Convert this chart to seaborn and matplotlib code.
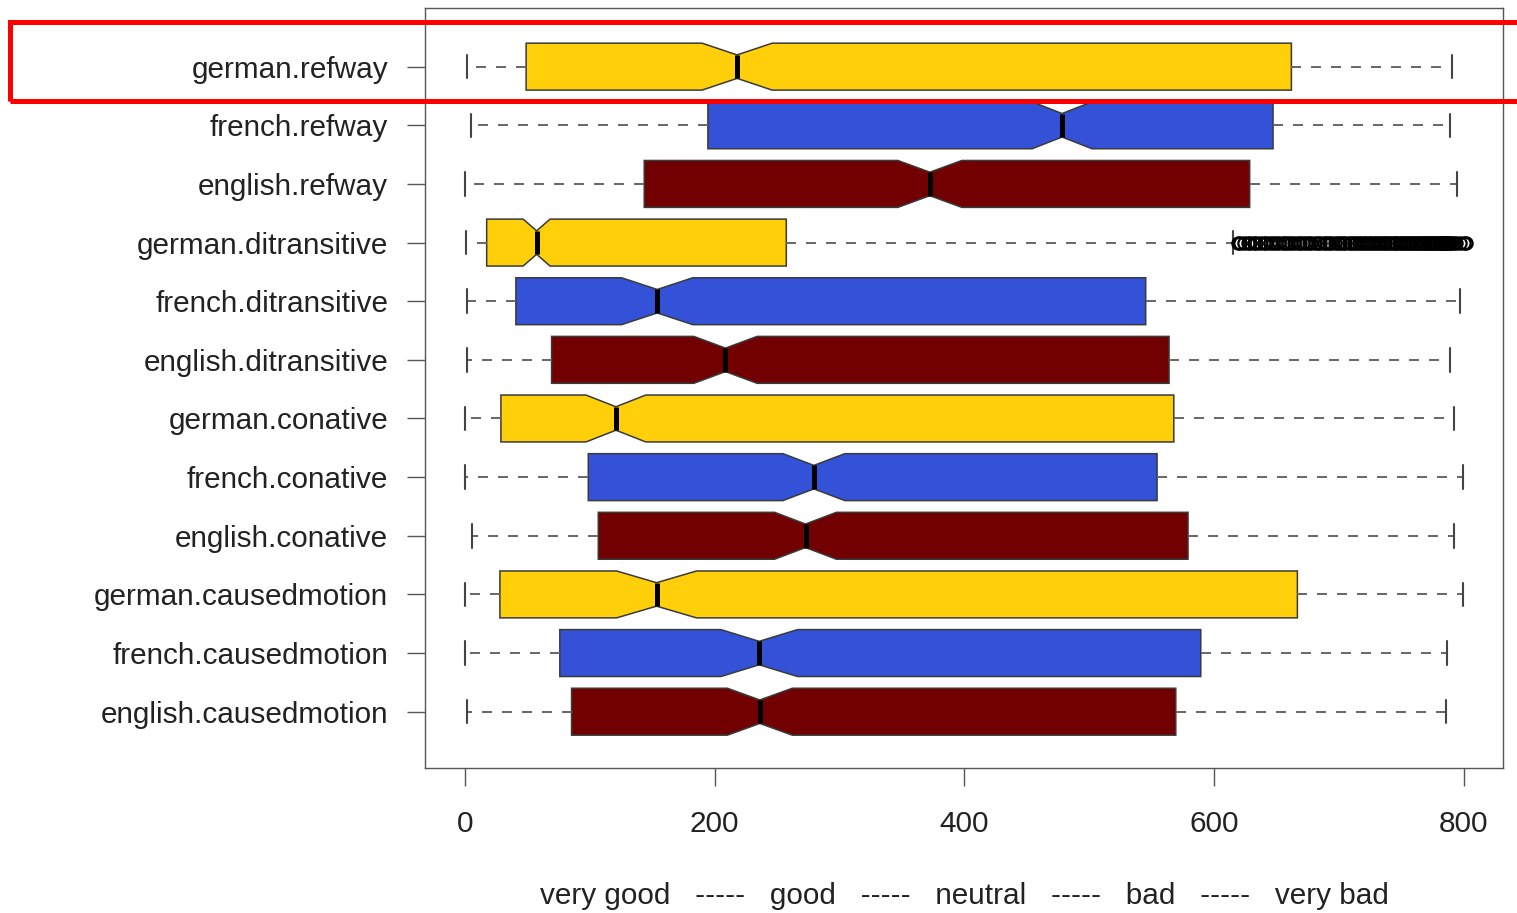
import numpy as np
import pandas as pd
import matplotlib
matplotlib.use("Agg")
import matplotlib.pyplot as plt
import seaborn as sns
from matplotlib.patches import Rectangle

# ---------------- data ----------------
categories = ["german.refway", "french.refway", "english.refway",
              "german.ditransitive", "french.ditransitive", "english.ditransitive",
              "german.conative", "french.conative", "english.conative",
              "german.causedmotion", "french.causedmotion", "english.causedmotion"]
whisker_low = [2, 4.5, 0, 0.6, 1.4, 1.4, 0, 0, 5.9, 0, 0, 1.3]
q1 = [49, 194.6, 143.6, 17.4, 40.8, 69.4, 28.8, 98.8, 106.8, 28, 76, 85.4]
median = [218, 478.3, 372.4, 57.4, 154, 208.7, 120.9, 279.5, 272.8, 153.5, 235.7, 236.2]
q3 = [662, 647.3, 628.6, 257.4, 545.3, 564, 567.8, 554.4, 579.2, 666.8, 589.4, 569.4]
whisker_high = [790.7, 788.8, 795, 615.3, 796.8, 788.8, 792.3, 799.4, 792.3, 799.4, 786.9, 786.1]
n_obs = [1180, 880, 885, 1220, 770, 940, 1245, 835, 900, 980, 690, 855]
outliers_german_ditransitive = [619, 621, 624, 627, 629, 632, 634, 637, 640, 642, 645, 647,
                                650, 652, 655, 657, 659, 662, 664, 667, 669, 671, 674, 676,
                                678, 681, 683, 685, 688, 690, 692, 694, 697, 699, 701, 703,
                                705, 708, 710, 712, 714, 716, 718, 720, 722, 724, 726, 728,
                                730, 732, 734, 736, 737, 739, 741, 743, 745, 746, 748, 750,
                                751, 753, 755, 756, 758, 759, 761, 762, 764, 765, 767, 768,
                                769, 771, 772, 773, 775, 776, 777, 778, 780, 781, 782, 783,
                                784, 785, 786, 787, 788, 789, 790, 792, 794, 797, 800, 802]
language_colors = {"german": "#FFD00A", "french": "#3352D8", "english": "#730000"}
x_ticks = [0, 200, 400, 600, 800]
x_label = "very good   -----   good   -----   neutral   -----   bad   -----   very bad"

# ---------------- long table for seaborn ----------------
rows = []
for i, cat in enumerate(categories):
    extra = outliers_german_ditransitive if cat == "german.ditransitive" else []
    k = (n_obs[i] - 2 - len(extra)) // 3
    vals = ([whisker_low[i]] + [q1[i]] * k + [median[i]] * k + [q3[i]] * k
            + [whisker_high[i]] + list(extra))
    rows += [(cat, v) for v in vals]
df = pd.DataFrame(rows, columns=["condition", "value"])
palette = {c: language_colors[c.split(".")[0]] for c in categories}

# ---------------- figure ----------------
sns.set_style("white")
plt.rcParams["font.family"] = ["Liberation Sans", "DejaVu Sans"]
plt.rcParams["lines.scale_dashes"] = False

fig = plt.figure(figsize=(15.17, 9.13), dpi=100)
ax = fig.add_axes([425 / 1517, 1 - 768 / 913, (1503 - 425) / 1517, (768 - 8) / 913])

sns.boxplot(data=df, x="value", y="condition", hue="condition",
            order=categories, hue_order=categories, palette=palette,
            orient="h", width=0.8, whis=1.5, saturation=1, dodge=False,
            linecolor="#3a3a3a", linewidth=1.1, fliersize=8.8, legend=False,
            notch=True, ax=ax,
            medianprops=dict(color="black", linewidth=3.6),
            whiskerprops=dict(color="#666666", linewidth=1.4, linestyle=(0, (7.2, 7.2))),
            capprops=dict(color="#444444", linewidth=1.5),
            flierprops=dict(marker="o", markerfacecolor="none",
                            markeredgecolor="black", markeredgewidth=1.6))

ax.set_xlim(-32, 831.5)
ax.set_ylim(11.96, -1.0)
ax.set_xticks(x_ticks)
ax.set_xticklabels([str(t) for t in x_ticks])
ax.set_ylabel("")
ax.set_xlabel(x_label, fontsize=21.4, color="#222222", labelpad=32)

for s in ax.spines.values():
    s.set_visible(True)
    s.set_color("#555555")
    s.set_linewidth(1.0)

ax.tick_params(axis="both", which="major", length=13, width=1.0, color="#555555",
               labelsize=21.4, labelcolor="#222222", direction="out")
ax.tick_params(axis="y", pad=13.5, left=True)
ax.tick_params(axis="x", pad=17, bottom=True)

# red highlight rectangle (figure coordinates)
fig.add_artist(Rectangle((10 / 1517, 1 - 101.5 / 913), (1530 - 10) / 1517, (101.5 - 22.5) / 913,
                         transform=fig.transFigure, fill=False, edgecolor="#FF0000",
                         linewidth=3.6, clip_on=False, zorder=10))

fig.savefig("out.png", dpi=100)
